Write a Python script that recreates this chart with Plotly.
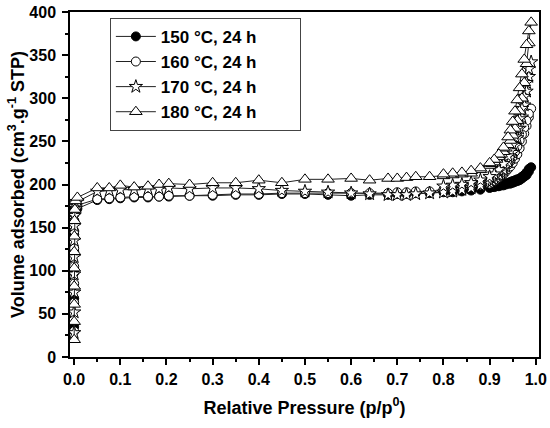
import plotly.graph_objects as go

# relative pressure grids (p/p0)
p_low = [0.00001, 0.00002, 0.00004, 0.00007, 0.0001, 0.0002, 0.0004, 0.0008, 0.0015, 0.003]
p_mid = [0.007, 0.05, 0.076, 0.1, 0.13, 0.16, 0.184, 0.205, 0.25, 0.3, 0.35, 0.4, 0.45, 0.5,
         0.55, 0.6, 0.64, 0.68, 0.7, 0.72, 0.74, 0.77, 0.8, 0.82, 0.84, 0.86, 0.88]
p_high = [0.9, 0.905, 0.91, 0.915, 0.92, 0.925, 0.93, 0.935, 0.94, 0.945, 0.95, 0.955, 0.96,
          0.965, 0.97, 0.975, 0.98, 0.985, 0.99]
p_des = [0.985, 0.98, 0.975, 0.97, 0.965, 0.96, 0.955, 0.95, 0.945, 0.94, 0.93, 0.92, 0.91,
         0.9, 0.88, 0.86, 0.84, 0.82, 0.8]

# volume adsorbed (cm3/g STP)
v150_low = [35, 68, 98, 122, 142, 157, 166, 170, 172, 175]
v150_mid = [172, 182, 183, 184, 185, 185, 186, 186, 187, 187, 188, 188, 189, 189, 188, 187,
            188, 188, 189, 189, 190, 190, 191, 191, 192, 193, 194]
v150_high = [196, 197, 197, 198, 198, 199, 199, 200, 201, 201, 202, 203, 204, 205, 207, 209,
             211, 215, 220]
v150_des = [218, 214, 211, 209, 207, 206, 205, 204, 203, 202, 201, 200, 199, 198, 196, 195,
            194, 193, 193]

v160_low = [30, 63, 85, 105, 126, 146, 158, 166, 171, 175]
v160_mid = [176, 183, 184, 185, 186, 186, 186, 187, 187, 188, 189, 189, 190, 190, 190, 190,
            190, 190, 191, 191, 192, 192, 193, 194, 195, 197, 199]
v160_high = [201, 203, 204, 206, 208, 210, 212, 215, 218, 221, 225, 230, 235, 242, 250, 259,
             268, 278, 288]
v160_des = [282, 274, 266, 258, 251, 244, 238, 232, 227, 223, 216, 211, 207, 204, 201, 198,
            196, 195, 194]

v170_low = [28, 52, 75, 96, 116, 135, 152, 164, 174, 180]
v170_mid = [180, 192, 193, 194, 194, 195, 195, 196, 195, 196, 196, 195, 193, 192, 191, 190,
            189, 188, 188, 188, 189, 190, 191, 192, 194, 196, 199]
v170_high = [202, 204, 206, 208, 211, 214, 217, 221, 226, 231, 237, 245, 254, 265, 278, 292,
             308, 325, 342]
v170_des = [334, 318, 302, 288, 276, 265, 255, 246, 239, 233, 224, 217, 212, 209, 205, 202,
            200, 199, 198]

v180_low = [20, 41, 61, 82, 103, 122, 140, 158, 171, 181]
v180_mid = [185, 196, 196, 199, 197, 198, 200, 201, 200, 202, 202, 205, 202, 206, 206, 207,
            205, 207, 207, 208, 209, 209, 210, 211, 212, 213, 217]
v180_high = [222, 224, 226, 229, 232, 235, 238, 242, 246, 251, 257, 265, 274, 285, 300, 318,
             340, 364, 388]
v180_des = [378, 362, 345, 328, 312, 298, 285, 273, 263, 255, 243, 235, 229, 225, 219, 216,
            214, 213, 212]

labels = ['150 °C, 24 h', '160 °C, 24 h', '170 °C, 24 h', '180 °C, 24 h']

series = [
    (labels[0], v150_low + v150_mid + v150_high + v150_des, 'circle', 'black', 9),
    (labels[1], v160_low + v160_mid + v160_high + v160_des, 'circle', 'white', 9),
    (labels[2], v170_low + v170_mid + v170_high + v170_des, 'star', 'white', 10),
    (labels[3], v180_low + v180_mid + v180_high + v180_des, 'triangle-up', 'white', 11),
]
p_all = p_low + p_mid + p_high + p_des

fig = go.Figure()
for name, vals, sym, fill, size in series:
    fig.add_trace(go.Scatter(
        x=p_all, y=vals, name=name + '\u00a0' * 8, mode='lines+markers',
        line=dict(color='#222222', width=1),
        marker=dict(symbol=sym, size=size, color=fill, line=dict(color='black', width=1)),
    ))

tick_font = dict(family='Arial', size=16, color='black', weight='bold')
title_font = dict(family='Arial', size=18, color='black')
fig.update_layout(
    width=550, height=428,
    margin=dict(l=70, r=11, t=12, b=71),
    plot_bgcolor='white', paper_bgcolor='white',
    showlegend=True,
    legend=dict(x=0.085, y=0.983, xanchor='left', yanchor='top',
                bordercolor='#444444', borderwidth=1, bgcolor='white',
                font=dict(family='Arial', size=17, color='black', weight='bold'),
                tracegroupgap=0, itemwidth=40),
)
fig.update_xaxes(
    range=[-0.009, 1.007], dtick=0.1, tickformat='.1f', automargin=False,
    ticks='outside', ticklen=6, tickwidth=1.5, tickcolor='black', ticklabelstandoff=1,
    minor=dict(dtick=0.05, ticks='outside', ticklen=3, tickwidth=1.5, tickcolor='black'),
    showline=True, linecolor='black', linewidth=1.5, mirror=True,
    showgrid=False, zeroline=False,
    tickfont=tick_font,
    title=dict(text='<b>Relative Pressure (p/p<sup>0</sup>)</b>', font=title_font, standoff=14),
)
fig.update_yaxes(
    range=[0, 400], dtick=50, automargin=False,
    ticks='outside', ticklen=6, tickwidth=1.5, tickcolor='black', ticklabelstandoff=3,
    minor=dict(dtick=25, ticks='outside', ticklen=3, tickwidth=1.5, tickcolor='black'),
    showline=True, linecolor='black', linewidth=1.5, mirror=True,
    showgrid=False, zeroline=False,
    tickfont=tick_font,
    title=dict(text='<b>Volume adsorbed (cm<sup>3</sup>.g<sup>-1</sup> STP)</b>',
               font=title_font, standoff=0),
)

# drop the browser's default 8px page margin so the figure fills the window
fig.write_html("out.html", config={'displayModeBar': False},
               post_script="document.body.style.margin='0';")
